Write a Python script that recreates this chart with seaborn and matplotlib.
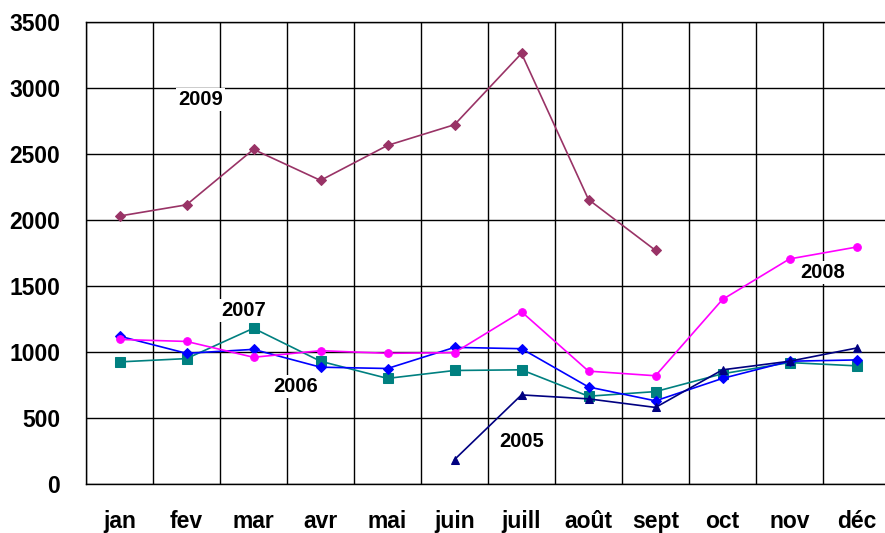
import numpy as np
import pandas as pd
import matplotlib
matplotlib.use('Agg')
import matplotlib.pyplot as plt
import seaborn as sns

# Data
months = ['jan', 'fev', 'mar', 'avr', 'mai', 'juin', 'juill', 'août', 'sept', 'oct', 'nov', 'déc']
nan = np.nan
y2005 = [nan, nan, nan, nan, nan, 185, 675, 645, 580, 865, 930, 1030]
y2006 = [1120, 990, 1020, 885, 875, 1035, 1025, 735, 630, 800, 930, 940]
y2007 = [925, 950, 1180, 930, 800, 860, 865, 665, 700, 835, 920, 895]
y2008 = [1095, 1080, 960, 1010, 990, 995, 1305, 855, 820, 1398, 1705, 1795]
y2009 = [2030, 2115, 2535, 2300, 2565, 2722, 3262, 2155, 1770, nan, nan, nan]

series = {'2005': y2005, '2006': y2006, '2007': y2007, '2008': y2008, '2009': y2009}
colors = {'2005': '#000080', '2006': '#0000FF', '2007': '#008080', '2008': '#FF00FF', '2009': '#993366'}
markers = {'2005': '^', '2006': 'D', '2007': 's', '2008': 'o', '2009': 'D'}
msizes = {'2005': 6, '2006': 5, '2007': 6.5, '2008': 5.5, '2009': 5}

sns.set_style('white')
plt.rcParams['font.family'] = ['Liberation Sans', 'DejaVu Sans']
plt.rcParams['text.color'] = 'black'
plt.rcParams['xtick.color'] = 'black'
plt.rcParams['ytick.color'] = 'black'

fig = plt.figure(figsize=(8.85, 5.33), dpi=100)
ax = fig.add_axes([86 / 885, 49 / 533, 804 / 885, 462 / 533])

x = np.arange(len(months))
for year in ['2009', '2007', '2006', '2008', '2005']:
    df = pd.DataFrame({'x': x, 'y': series[year]}).dropna()
    sns.lineplot(data=df, x='x', y='y', ax=ax, color=colors[year], marker=markers[year],
                 markersize=msizes[year], markeredgecolor=colors[year], linewidth=1.2, zorder=3)

ax.set_xlim(-0.5, 11.5)
ax.set_ylim(0, 3500)
ax.set_yticks(np.arange(0, 3501, 500))
ax.set_xticks(np.arange(-0.5, 12, 1))
ax.set_xticklabels([])
ax.set_xticks(x, minor=True)
ax.set_xticklabels(months, minor=True)
ax.tick_params(axis='x', which='major', length=8, width=1, color='black', direction='out')
ax.tick_params(axis='x', which='minor', length=0, pad=18.5, labelsize=16.5)
ax.tick_params(axis='y', length=8, width=1, color='black', direction='out', pad=10.5, labelsize=16.5)
for lab in ax.get_xticklabels(minor=True) + ax.get_yticklabels():
    lab.set_fontweight('bold')
    lab.set_color('black')

ax.grid(True, which='major', color='black', linewidth=1)
ax.set_axisbelow(True)
for s in ax.spines.values():
    s.set_color('black')
    s.set_linewidth(1)
ax.set_xlabel('')
ax.set_ylabel('')

# Year labels
labels = [('2009', 1.21, 2910), ('2007', 1.85, 1315), ('2006', 2.63, 740), ('2005', 6.0, 325), ('2008', 10.5, 1605)]
for txt, lx, ly in labels:
    ax.text(lx, ly, txt, fontsize=14.5, fontweight='bold', color='black', ha='center', va='center', zorder=4,
            bbox=dict(facecolor='white', edgecolor='none', pad=1.5))

fig.savefig('out.png', dpi=100)
